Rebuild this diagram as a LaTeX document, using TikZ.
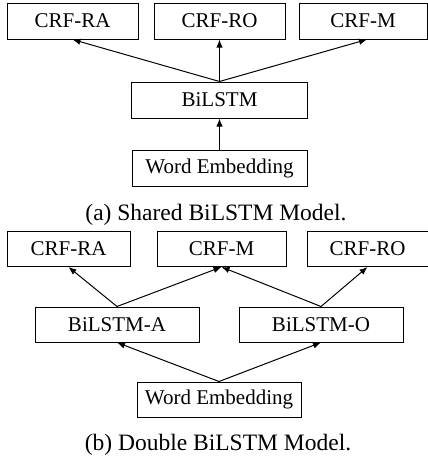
\documentclass[tikz,border=0pt]{standalone}
\usepackage{fontspec}
\setmainfont{Liberation Serif}
\usepackage{tikz}
\usetikzlibrary{arrows.meta}

\begin{document}
\begin{tikzpicture}[x=0.5pt, y=-0.5pt, line width=0.5pt,
    layerbox/.style={draw, inner sep=0pt, minimum height=17.5pt, font=\fontsize{10.5}{12}\selectfont},
    capt/.style={font=\fontsize{11.75}{14}\selectfont},
    link/.style={-{Latex[length=4pt, width=3.2pt]}}]

    \useasboundingbox (0,0) rectangle (428,461);

    % Shared BiLSTM model
    \node[layerbox, minimum width=65.5pt, minimum height=18pt] (craA) at (72.5,21) {CRF-RA};
    \node[layerbox, minimum width=65.5pt, minimum height=18pt] (croA) at (219.5,21) {CRF-RO};
    \node[layerbox, minimum width=64pt, minimum height=18pt] (cmA) at (363,21) {CRF-M};
    \node[layerbox, minimum width=88pt, minimum height=18pt] (bilstm) at (219.5,100) {BiLSTM};
    \node[layerbox, minimum width=87.5pt, minimum height=18pt] (embA) at (219.5,168.5) {Word Embedding};

    \draw[link] (bilstm.north) -- (craA.south);
    \draw[link] (bilstm.north) -- (croA.south);
    \draw[link] (bilstm.north) -- ([xshift=2pt]cmA.south);
    \draw[link] (embA.north) -- (bilstm.south);

    \node[capt] (captA) at (216,215) {(a) Shared BiLSTM Model.};

    % Double BiLSTM model
    \node[layerbox, minimum width=61.5pt] (craB) at (68.5,249) {CRF-RA};
    \node[layerbox, minimum width=64.5pt] (cmB) at (221.5,249) {CRF-M};
    \node[layerbox, minimum width=60.5pt] (croB) at (367.5,249) {CRF-RO};
    \node[layerbox, minimum width=82pt] (bilA) at (117,324.5) {BiLSTM-A};
    \node[layerbox, minimum width=82pt] (bilO) at (321,324.5) {BiLSTM-O};
    \node[layerbox, minimum width=82pt] (embB) at (219,399.5) {Word Embedding};

    \draw[link] (bilA.north) -- (craB.south);
    \draw[link] (bilA.north) -- (cmB.south);
    \draw[link] (bilO.north) -- (cmB.south);
    \draw[link] (bilO.north) -- (croB.south);
    \draw[link] (embB.north) -- (bilA.south);
    \draw[link] (embB.north) -- (bilO.south);

    \node[capt] (captB) at (218,445) {(b) Double BiLSTM Model.};

\end{tikzpicture}
\end{document}
